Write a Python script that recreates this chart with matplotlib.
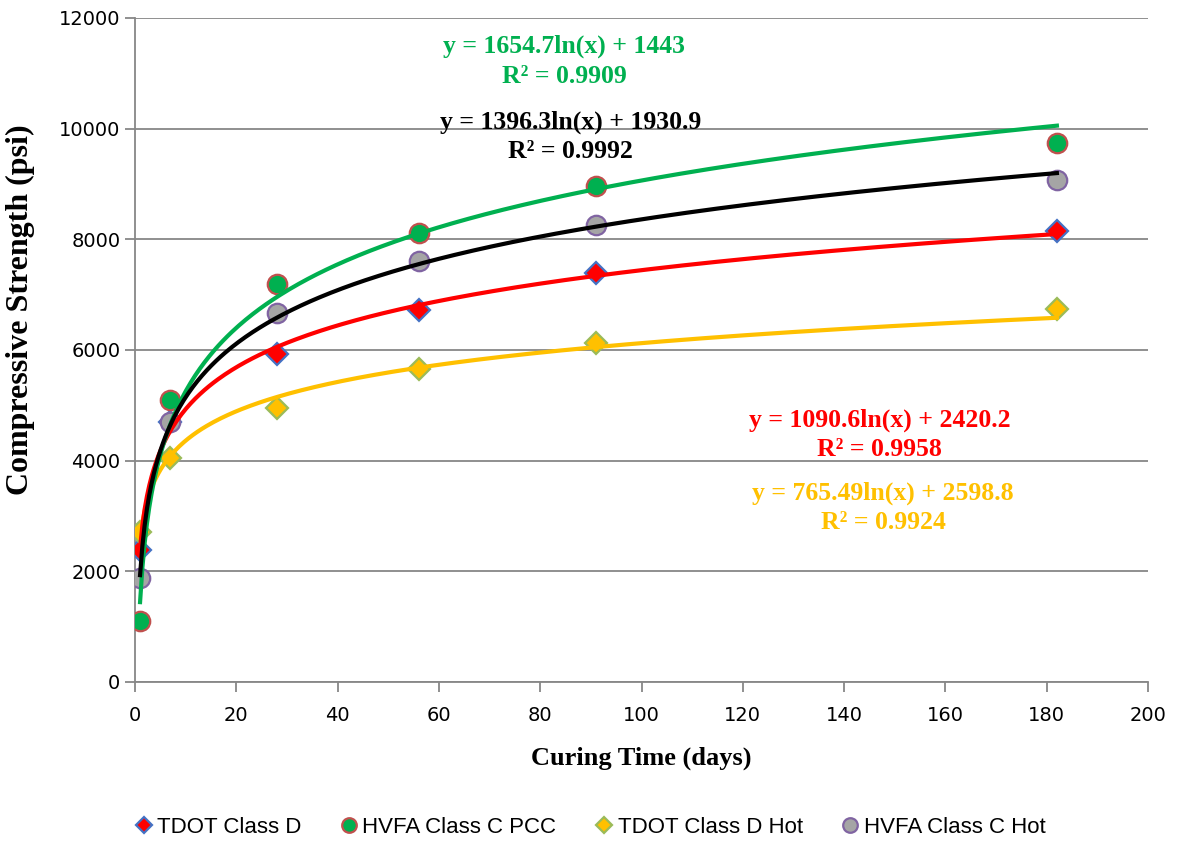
import numpy as np
import matplotlib
matplotlib.use("Agg")
import matplotlib.pyplot as plt

# -------------------------------
# Data
# -------------------------------
days = np.array([1, 7, 28, 56, 91, 182])

tdot_d = [2380, 4690, 5920, 6720, 7390, 8150]
hvfa_pcc = [1110, 5090, 7200, 8110, 8960, 9740]
tdot_d_hot = [2710, 4040, 4960, 5660, 6120, 6740]
hvfa_hot = [1870, 4700, 6660, 7610, 8250, 9080]

# log trendline coefficients (slope, intercept) as printed on the chart
fit_tdot_d = (1090.6, 2420.2)
fit_hvfa_pcc = (1654.7, 1443.0)
fit_tdot_d_hot = (765.49, 2598.8)
fit_hvfa_hot = (1396.3, 1930.9)

eq_tdot_d = ["y = 1090.6ln(x) + 2420.2", "R² = 0.9958"]
eq_hvfa_pcc = ["y = 1654.7ln(x) + 1443", "R² = 0.9909"]
eq_tdot_d_hot = ["y = 765.49ln(x) + 2598.8", "R² = 0.9924"]
eq_hvfa_hot = ["y = 1396.3ln(x) + 1930.9", "R² = 0.9992"]

# -------------------------------
# Figure
# -------------------------------
fig = plt.figure(figsize=(11.78, 8.41), dpi=100)
ax = fig.add_axes([0.1146, 0.1891, 0.86, 0.7895])

grid_c = "#878787"
ax.set_xlim(0, 200)
ax.set_ylim(0, 12000)
ax.set_xticks(np.arange(0, 201, 20))
ax.set_yticks(np.arange(0, 12001, 2000))
ax.yaxis.grid(True, color=grid_c, linewidth=1.3)
ax.set_axisbelow(True)
for s in ["top", "right"]:
    ax.spines[s].set_visible(False)
for s in ["left", "bottom"]:
    ax.spines[s].set_color(grid_c)
    ax.spines[s].set_linewidth(1.3)
ax.tick_params(axis="both", colors=grid_c, length=7, width=1.3,
               labelcolor="black", labelsize=14)
ax.tick_params(axis="x", pad=10)

# markers
series = [
    (tdot_d, "D", "#ff0000", "#4472c4", "TDOT Class D", 11),
    (hvfa_pcc, "o", "#00b050", "#c0504d", "HVFA Class C PCC", 14),
    (tdot_d_hot, "D", "#ffc000", "#9bbb59", "TDOT Class D Hot", 11),
    (hvfa_hot, "o", "#a5a5a5", "#8064a2", "HVFA Class C Hot", 14),
]
for vals, mk, fc, ec, lab, ms in series:
    ax.plot(days, vals, linestyle="none", marker=mk, markersize=ms,
            markerfacecolor=fc, markeredgecolor=ec, markeredgewidth=1.6,
            label=lab, zorder=3)

# trendlines
xs = np.linspace(1, 182, 400)
for (a, b), col in [(fit_tdot_d_hot, "#ffc000"), (fit_tdot_d, "#ff0000"),
                    (fit_hvfa_pcc, "#00b050"), (fit_hvfa_hot, "black")]:
    ax.plot(xs, a * np.log(xs) + b, color=col, linewidth=3, zorder=4)

# equations
tfont = dict(family="Liberation Serif", fontweight="bold", fontsize=18.5,
             ha="center", va="center")
for lines, col, x, y in [(eq_hvfa_pcc, "#00b050", 84.7, 11480),
                         (eq_hvfa_hot, "black", 86, 10110),
                         (eq_tdot_d, "#ff0000", 147, 4725),
                         (eq_tdot_d_hot, "#ffc000", 147.7, 3405)]:
    ax.text(x, y, lines[0], color=col, **tfont)
    ax.text(x, y - 530, lines[1], color=col, **tfont)

ax.set_xlabel("Curing Time (days)", family="Liberation Serif",
              fontweight="bold", fontsize=19, labelpad=16)
ax.set_ylabel("Compressive Strength (psi)", family="Liberation Serif",
              fontweight="bold", fontsize=23)
ax.yaxis.set_label_coords(-0.099, 0.56)

fig.legend(loc="lower center", bbox_to_anchor=(0.5, -0.02), ncol=4,
           frameon=False, handletextpad=0.1, columnspacing=1.65,
           handlelength=1.0, markerscale=0.75,
           prop={"family": ["Liberation Sans Narrow", "Liberation Sans"], "size": 16})

plt.savefig("out.png", dpi=100)
plt.close()
